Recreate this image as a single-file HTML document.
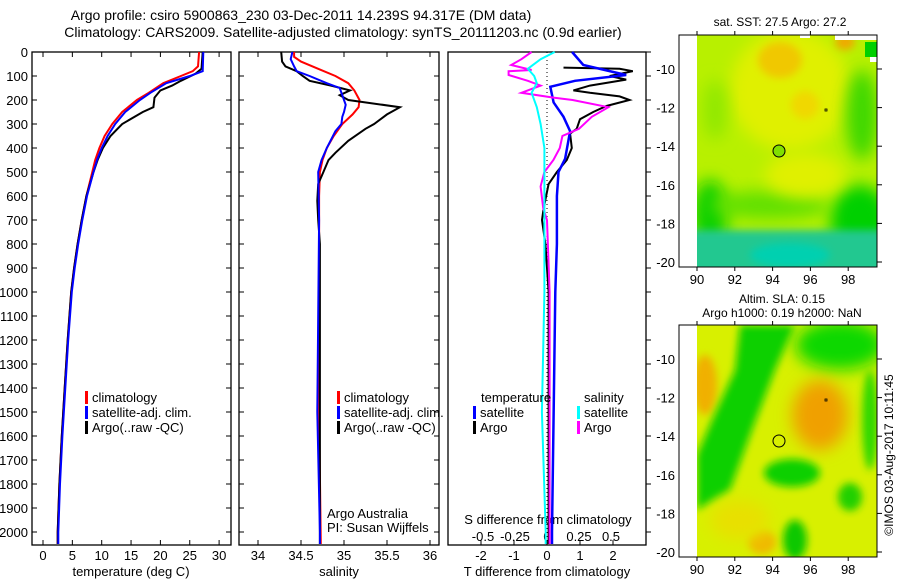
<!DOCTYPE html>
<html><head><meta charset="utf-8"><style>
body{margin:0;background:#fff;}
svg{font-family:"Liberation Sans",sans-serif;font-size:13px;}
</style></head><body>
<svg id="fig" width="900" height="580" viewBox="0 0 900 580" xmlns="http://www.w3.org/2000/svg">
<defs>
<filter id="bl" x="-50%" y="-50%" width="200%" height="200%"><feGaussianBlur stdDeviation="8"/></filter>
<filter id="bl2" x="-50%" y="-50%" width="200%" height="200%"><feGaussianBlur stdDeviation="4"/></filter>
<clipPath id="c1"><rect x="697" y="35" width="180" height="232"/></clipPath>
<clipPath id="c2"><rect x="697" y="325" width="180" height="232"/></clipPath>
</defs>
<text x="301" y="20" text-anchor="middle" font-size="14">Argo profile: csiro 5900863_230 03-Dec-2011 14.239S 94.317E (DM data)</text>
<text x="343" y="37" text-anchor="middle" font-size="14">Climatology: CARS2009. Satellite-adjusted climatology: synTS_20111203.nc (0.9d earlier)</text>

<g>
<g clip-path="url(#c1)">
<rect x="697" y="35" width="180" height="232" fill="#b8f000"/>
<ellipse cx="790" cy="90" rx="60" ry="60" fill="#e0f000" filter="url(#bl)"/>
<ellipse cx="780" cy="60" rx="22" ry="18" fill="#f0c800" filter="url(#bl2)"/>
<ellipse cx="805" cy="105" rx="14" ry="14" fill="#f0d800" filter="url(#bl2)"/>
<ellipse cx="845" cy="42" rx="10" ry="8" fill="#f0a800" filter="url(#bl2)"/>
<ellipse cx="862" cy="115" rx="16" ry="45" fill="#40d800" filter="url(#bl)"/>
<ellipse cx="715" cy="110" rx="12" ry="30" fill="#90e800" filter="url(#bl)"/>
<ellipse cx="710" cy="215" rx="18" ry="35" fill="#10d000" filter="url(#bl)"/>
<ellipse cx="860" cy="220" rx="30" ry="35" fill="#00d000" filter="url(#bl)"/>
<ellipse cx="770" cy="205" rx="60" ry="14" fill="#60e000" filter="url(#bl)"/>
<ellipse cx="805" cy="175" rx="40" ry="22" fill="#e0f000" filter="url(#bl)"/>
<rect x="690" y="230" width="200" height="45" fill="#20c890" filter="url(#bl2)"/>
<ellipse cx="790" cy="255" rx="40" ry="12" fill="#00d0b0" filter="url(#bl2)"/>
<rect x="865" y="42" width="12" height="15" fill="#00d000"/>
<rect x="870" y="57" width="7" height="5" fill="#fff"/>
<rect x="835" y="35" width="42" height="5" fill="#fff"/>
<rect x="800" y="35" width="10" height="3" fill="#fff"/>
</g>
<circle cx="779" cy="151" r="6" fill="#80e000" stroke="#000" stroke-width="1"/>
<rect x="825" y="109" width="2" height="2" fill="none" stroke="#000" stroke-width="0.8"/>
<rect x="679" y="35" width="198" height="232" fill="none" stroke="#000"/>
<text x="780" y="26" text-anchor="middle" font-size="12">sat. SST: 27.5 Argo: 27.2</text>
</g>

<g>
<g clip-path="url(#c2)">
<rect x="697" y="325" width="180" height="232" fill="#d8f000"/>
<ellipse cx="705" cy="385" rx="12" ry="30" fill="#f0b000" filter="url(#bl2)"/>
<path d="M740,325 L795,325 L775,370 L752,430 L730,490 L697,510 L697,455 L712,420 L735,370 Z" fill="#10d000" filter="url(#bl2)"/>
<ellipse cx="840" cy="345" rx="45" ry="25" fill="#10d800" filter="url(#bl)"/>
<ellipse cx="870" cy="420" rx="8" ry="50" fill="#30d800" filter="url(#bl2)"/>
<ellipse cx="820" cy="415" rx="28" ry="35" fill="#f0a000" filter="url(#bl)"/>
<ellipse cx="792" cy="473" rx="28" ry="14" fill="#10d000" filter="url(#bl2)"/>
<ellipse cx="850" cy="497" rx="12" ry="14" fill="#20d000" filter="url(#bl2)"/>
<ellipse cx="795" cy="540" rx="12" ry="20" fill="#10c800" filter="url(#bl2)"/>
<ellipse cx="762" cy="542" rx="14" ry="12" fill="#f0b800" filter="url(#bl2)"/>
<ellipse cx="740" cy="520" rx="30" ry="20" fill="#e8e000" filter="url(#bl)"/>
</g>
<circle cx="779" cy="441" r="6" fill="none" stroke="#000" stroke-width="1"/>
<rect x="825" y="399" width="2" height="2" fill="none" stroke="#000" stroke-width="0.8"/>
<rect x="679" y="325" width="198" height="232" fill="none" stroke="#000"/>
<text x="782" y="303" text-anchor="middle" font-size="12">Altim. SLA: 0.15</text>
<text x="782" y="317" text-anchor="middle" font-size="12">Argo h1000: 0.19 h2000: NaN</text>
</g>
<text transform="translate(893,455) rotate(-90)" text-anchor="middle" font-size="12">©IMOS 03-Aug-2017 10:11:45</text>

<g id="plots"></g>
</svg>
<script>
// ---- data ----
const depthTicks = [0,100,200,300,400,500,600,700,800,900,1000,1100,1200,1300,1400,1500,1600,1700,1800,1900,2000];
const tempTicks = [0,5,10,15,20,25,30];
const salTicks = [34,34.5,35,35.5,36];
const salTickLabels = ["34","34.5","35","35.5","36"];
const tdiffTicks = [-2,-1,0,1,2];
const sdiffTicks = [-0.5,-0.25,0,0.25,0.5];
const sdiffTickLabels = ["-0.5","-0.25","0","0.25","0.5"];
const latTicks = [-10,-12,-14,-16,-18,-20];
const lonTicks = [90,92,94,96,98];

const tClimDepth = [0,60,80,100,130,170,200,250,300,350,400,450,500,600,700,800,900,1000,1200,1400,1600,1800,2000,2050];
const tClimVal   = [26.6,26.4,25.5,23.5,20.5,18,16,13.5,11.8,10.5,9.6,8.9,8.4,7.4,6.6,5.9,5.3,4.8,4.2,3.7,3.2,2.8,2.5,2.5];
const tSatDepth  = [0,80,100,130,170,200,250,300,350,400,450,500,600,700,800,900,1000,1200,1400,1600,1800,2000,2050];
const tSatVal    = [27.3,27.2,25,21,18.3,16.5,14,12.3,11,10,9.2,8.6,7.5,6.7,6.0,5.4,4.9,4.3,3.8,3.3,2.9,2.6,2.6];
const tArgoDepth = [0,70,90,120,140,160,190,230,250,300,350,400,450,500,600,700,800,900,1000,1200,1400,1600,1800,2000,2050];
const tArgoVal   = [27.2,27,26,23.5,22,20,19,18.8,17,13.5,11.5,10.2,9.3,8.6,7.4,6.6,5.9,5.3,4.8,4.2,3.7,3.2,2.8,2.5,2.5];

const sClimDepth = [0,20,40,70,100,130,160,200,230,260,300,350,400,450,500,600,1000,1500,2050];
const sClimVal   = [34.42,34.42,34.5,34.7,34.9,35.05,35.12,35.18,35.17,35.1,34.98,34.88,34.8,34.75,34.72,34.71,34.71,34.71,34.73];
const sSatDepth  = [0,30,60,80,100,130,150,180,200,220,250,270,300,330,400,450,500,700,1500,2000,2050];
const sSatVal    = [34.40,34.38,34.42,34.45,34.6,34.8,34.95,34.98,35.0,35.02,35.0,34.98,34.97,34.9,34.8,34.74,34.7,34.71,34.69,34.72,34.72];
const sArgoDepth = [0,40,60,80,100,120,140,160,180,200,230,260,300,320,370,420,450,500,550,620,700,800,2000,2050];
const sArgoVal   = [34.27,34.28,34.32,34.45,34.52,34.6,34.85,35.07,34.95,35.05,35.65,35.5,35.35,35.25,35.05,34.9,34.82,34.76,34.7,34.69,34.7,34.72,34.72,34.72];

const dTSatDepth  = [0,54,96,120,145,210,270,330,445,500,600,800,1000,2000,2050];
const dTSatVal    = [0.76,1.1,2.4,0.85,0.1,0.2,0.5,0.7,0.55,0.35,0.3,0.3,0.25,0.15,0.15];
const dTArgoDepth = [65,70,80,100,115,140,160,170,185,200,225,250,280,320,340,400,450,500,550,650,700,800,1000,2000,2050];
const dTArgoVal   = [0.5,2.2,2.6,1.9,2.4,1.3,0.8,1.3,2.2,2.5,1.8,1.4,1.0,0.9,0.7,0.75,0.6,0.3,0.05,-0.1,-0.15,-0.05,0.05,0.05,0.05];
const dSArgoDepth = [0,30,54,75,80,96,120,140,170,190,200,230,270,320,350,400,450,500,560,650,700,1000,2000,2050];
const dSArgoVal   = [-0.12,-0.2,-0.28,-0.12,-0.3,-0.3,-0.15,-0.05,-0.2,0.05,0.2,0.48,0.35,0.25,0.12,0.1,0.05,-0.02,-0.05,-0.03,0.0,0.02,0.02,0.02];
const dSSatDepth  = [0,30,70,100,130,170,230,300,400,500,1000,1500,2000,2050];
const dSSatVal    = [0.06,-0.05,-0.15,-0.1,-0.08,-0.12,-0.08,-0.05,-0.02,-0.02,-0.02,-0.04,-0.01,-0.01];

// ---- layout ----
const NS="http://www.w3.org/2000/svg";
const root=document.getElementById('plots');
const TOP=52, BOT=545;
const yD=d=>TOP+d*0.24;
const xT=t=>43+t*5.87;
const xS=s=>258+(s-34)*86;
const xDT=v=>547+v*33;
const xDS=v=>547+v*128;
function mk(tag,attrs,parent){const e=document.createElementNS(NS,tag);for(const k in attrs)e.setAttribute(k,attrs[k]);(parent||root).appendChild(e);return e;}
function txt(x,y,s,anchor,parent){const e=mk('text',{x:x,y:y,'text-anchor':anchor||'start'},parent);e.textContent=s;return e;}
function line(depths,vals,xf,color,w,name){
  const pts=depths.map((d,i)=>xf(vals[i]).toFixed(1)+','+yD(d).toFixed(1)).join(' ');
  const p=mk('polyline',{points:pts,fill:'none',stroke:color,'stroke-width':w});
  
  
}
const panels=[[32,231],[239,439],[448,646]];
panels.forEach((p,i)=>{
  const r=mk('rect',{x:p[0],y:TOP,width:p[1]-p[0],height:BOT-TOP,fill:'none',stroke:'#000','stroke-width':1.3});
  
  
  depthTicks.forEach(d=>{
    if(i<2){mk('line',{x1:p[0],x2:p[0]+5,y1:yD(d),y2:yD(d),stroke:'#000'});mk('line',{x1:p[1],x2:p[1]-5,y1:yD(d),y2:yD(d),stroke:'#000'});}
    else{mk('line',{x1:p[1],x2:p[1]+5,y1:yD(d),y2:yD(d),stroke:'#000'});}
  });
});
depthTicks.forEach(d=>{const t=txt(28,yD(d)+5,String(d),'end');
  
  });
function xticks(ticks,labels,xf,yl,top,name){
  ticks.forEach((v,i)=>{const x=xf(v);
    mk('line',{x1:x,x2:x,y1:BOT,y2:BOT-5,stroke:'#000'});
    if(top)mk('line',{x1:x,x2:x,y1:TOP,y2:TOP+5,stroke:'#000'});
    const t=txt(x,yl,labels?labels[i]:String(v),'middle');
    
    });
}
xticks(tempTicks,null,xT,560,true,'temp-tick-label');
xticks(salTicks,salTickLabels,xS,560,true,'salinity-tick-label');
xticks(tdiffTicks,null,xDT,560,false,'tdiff-tick-label');
sdiffTicks.forEach((v,i)=>{const t=txt(xDS(v),541,sdiffTickLabels[i],'middle');
  
  });
[[131,'temperature (deg C)','temp-axis-title'],[339,'salinity','salinity-axis-title'],[547,'T difference from climatology','tdiff-axis-title']].forEach(a=>{
  const t=txt(a[0],576,a[1],'middle');
  
  });
const st=txt(548,524,'S difference from climatology','middle');


const z=mk('line',{x1:547,x2:547,y1:TOP,y2:BOT,stroke:'#000','stroke-dasharray':'1,3'});



line(tClimDepth,tClimVal,xT,'#f00',2,'temp-climatology-line');
line(tArgoDepth,tArgoVal,xT,'#000',2,'temp-argo-line');
line(tSatDepth,tSatVal,xT,'#00f',2,'temp-satellite-line');
line(sClimDepth,sClimVal,xS,'#f00',2,'salinity-climatology-line');
line(sArgoDepth,sArgoVal,xS,'#000',2,'salinity-argo-line');
line(sSatDepth,sSatVal,xS,'#00f',2,'salinity-satellite-line');
line(dTArgoDepth,dTArgoVal,xDT,'#000',2,'tdiff-argo-line');
line(dTSatDepth,dTSatVal,xDT,'#00f',2.5,'tdiff-satellite-line');
line(dSArgoDepth,dSArgoVal,xDS,'#f0f',2,'sdiff-argo-line');
line(dSSatDepth,dSSatVal,xDS,'#0ff',2,'sdiff-satellite-line');

function legend(x,y,color,label,name){
  mk('rect',{x:x,y:y-11,width:3,height:13,fill:color});
  const t=txt(x+7,y,label);
  
  
}
legend(85,402,'#f00','climatology','legend-climatology');
legend(85,417,'#00f','satellite-adj. clim.','legend-satellite');
legend(85,432,'#000','Argo(..raw -QC)','legend-argo');
legend(337,402,'#f00','climatology','legend-sal-climatology');
legend(337,417,'#00f','satellite-adj. clim.','legend-sal-satellite');
legend(337,432,'#000','Argo(..raw -QC)','legend-sal-argo');
const lt=txt(481,402,'temperature');
const ls=txt(584,402,'salinity');
legend(473,417,'#00f','satellite','legend-tdiff-satellite');
legend(473,432,'#000','Argo','legend-tdiff-argo');
legend(577,417,'#0ff','satellite','legend-sdiff-satellite');
legend(577,432,'#f0f','Argo','legend-sdiff-argo');
const a1=txt(327,518,'Argo Australia');
const a2=txt(327,532,'PI: Susan Wijffels');

const lonX=v=>697+(v-90)*18.9;
[[35,267,69],[325,557,359]].forEach((m,mi)=>{
  const latY=v=>m[2]+(-10-v)*19.3;
  latTicks.forEach(v=>{const y=latY(v);
    mk('line',{x1:877,x2:882,y1:y,y2:y,stroke:'#000'});
    const t=txt(675,y+5,String(v),'end');
    
    });
  lonTicks.forEach(v=>{const x=lonX(v);
    mk('line',{x1:x,x2:x,y1:m[0],y2:m[0]-4,stroke:'#000'});
    mk('line',{x1:x,x2:x,y1:m[1],y2:m[1]+4,stroke:'#000'});
    const t=txt(x,m[1]+17,String(v),'middle');
    
    });
});
</script>
</body></html>
